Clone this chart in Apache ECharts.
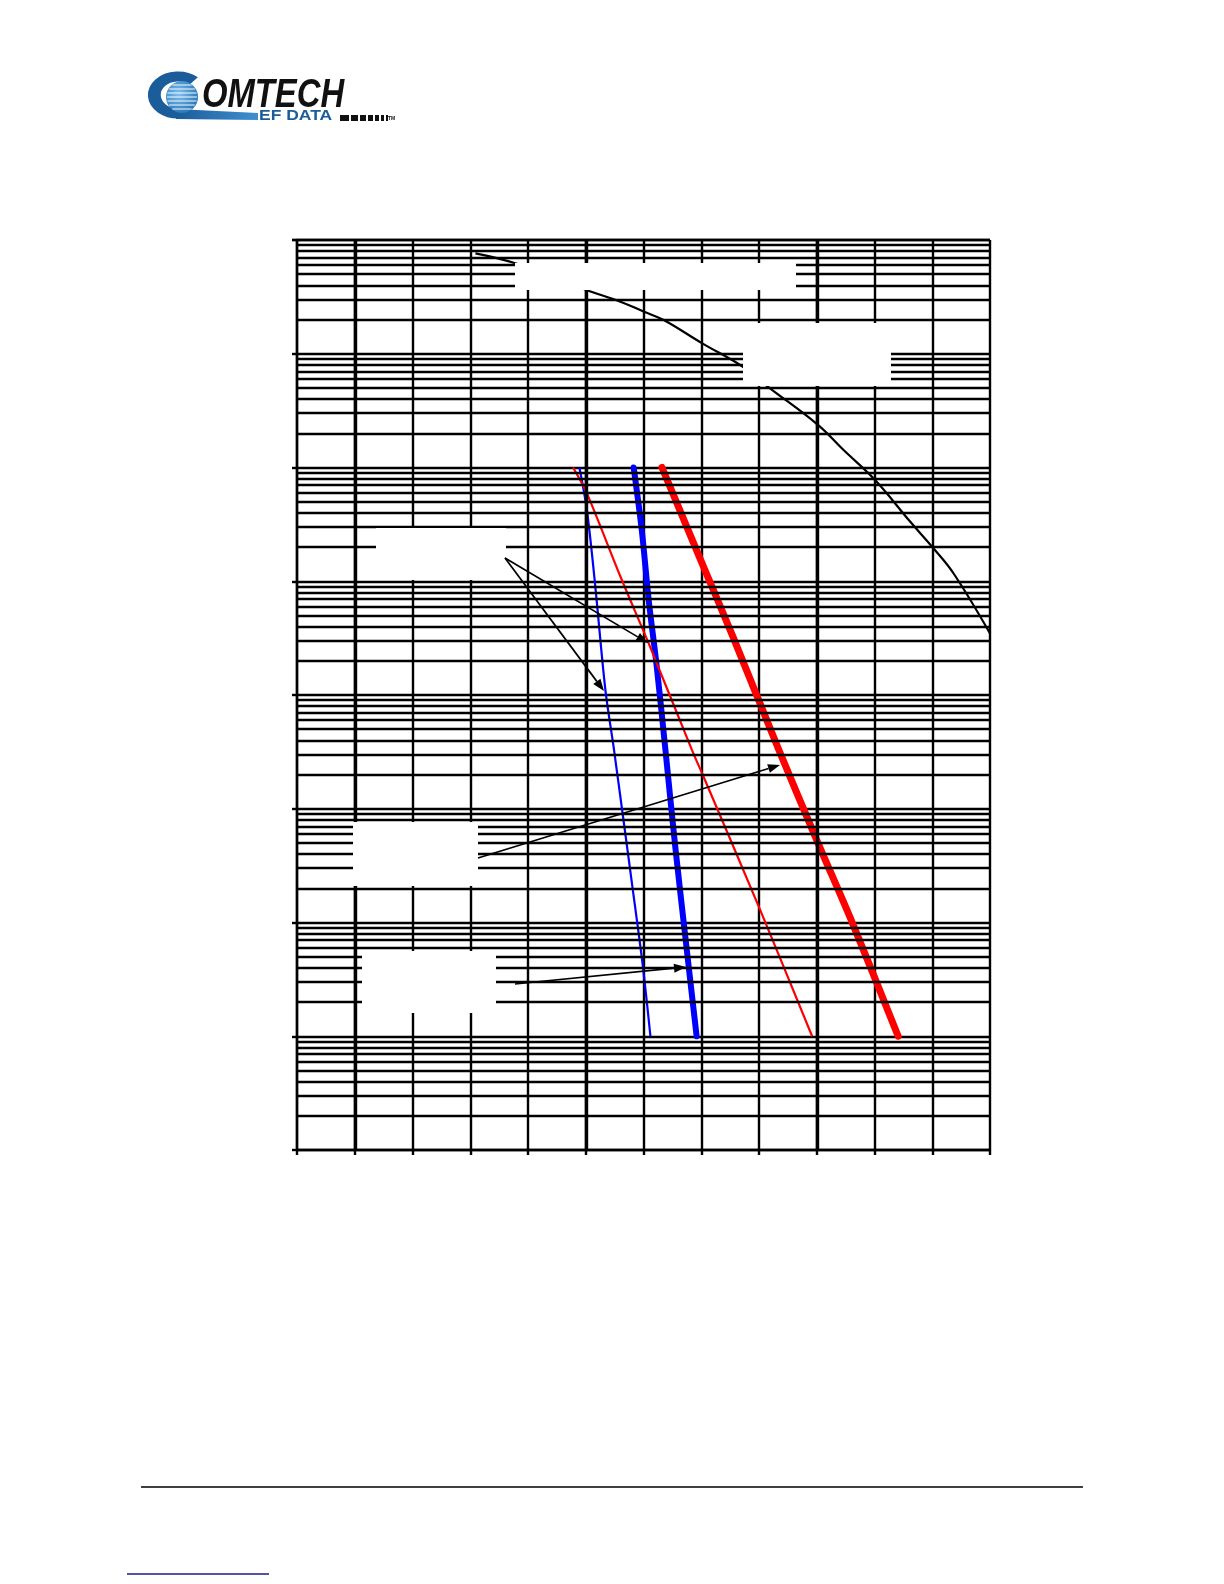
<!DOCTYPE html>
<html>
<head>
<meta charset="utf-8">
<title>BER vs Eb/No</title>
<script src="https://cdn.jsdelivr.net/npm/echarts@6/dist/echarts.min.js"></script>
<style>
    body { margin: 0; background: #fff; }
    #main { width: 1224px; height: 1584px; }
</style>
</head>
<body>
<div id="main"></div>
<script>
    // axes: Eb/No in dB along x, BER on a log scale along y
    var ebnoMin = 0, ebnoMax = 12;
    var berMin = 1e-9, berMax = 1e-1;
    var berDecades = [1e-9, 1e-8, 1e-7, 1e-6, 1e-5, 1e-4, 1e-3, 1e-2];
    var minorSteps = [2, 3, 4, 5, 6, 7, 8, 9];
    var heavyEbno = [1, 5, 9];

    // uncoded reference curve (black)
    var uncodedEbno = [3.09, 3.78, 5.01, 5.60, 6.01, 6.35, 7.01, 7.72, 8.14, 9.02, 9.46, 10.01, 10.62, 11.02, 11.37, 12.0];
    var uncodedBer = [7.64e-2, 6.24e-2, 3.63e-2, 2.87e-2, 2.34e-2, 1.98e-2, 1.24e-2, 7.69e-3, 5.20e-3, 2.37e-3, 1.43e-3, 7.76e-4, 3.33e-4, 1.95e-4, 1.17e-4, 3.48e-5];

    // thin blue
    var blueThinEbno = [4.89, 5.02, 5.16, 5.34, 5.49, 5.63, 5.80, 5.99, 6.12];
    var blueThinBer = [1e-3, 4.23e-4, 9.6e-5, 1.11e-5, 3.28e-6, 9.75e-7, 2.21e-7, 4.08e-8, 1e-8];

    // thick blue
    var blueThickEbno = [5.83, 5.97, 6.09, 6.23, 6.38, 6.55, 6.75, 6.92];
    var blueThickBer = [1e-3, 2.82e-4, 6.84e-5, 1.77e-5, 3.28e-6, 4.63e-7, 5.73e-8, 1e-8];

    // thin red
    var redThinEbno = [4.78, 5.02, 5.60, 6.09, 6.84, 7.04, 8.02, 8.92];
    var redThinBer = [1e-3, 5.93e-4, 1.10e-4, 2.84e-5, 3.28e-6, 1.91e-6, 1.29e-7, 1e-8];

    // thick red
    var redThickEbno = [6.32, 7.04, 7.55, 8.33, 9.00, 9.62, 10.41];
    var redThickBer = [1e-3, 1.34e-4, 3.25e-5, 3.42e-6, 5.31e-7, 9.84e-8, 1e-8];

    function pairs(xs, ys) {
        return xs.map(function (x, i) { return [x, ys[i]]; });
    }

    var minorBer = [];
    berDecades.forEach(function (d) {
        minorSteps.forEach(function (k) { minorBer.push(k * d); });
    });

    // label boxes (their text is blank in the source) and arrows
    var boxes = [
        [515, 263, 281, 27],
        [743, 323, 148, 63],
        [376, 528, 130, 52],
        [353, 822, 125, 64],
        [362, 951, 134, 62]
    ];
    var arrows = [
        [505, 558, 648, 643],
        [505, 558, 604, 691],
        [478, 858, 780, 765],
        [515, 984, 686, 967]
    ];

    function arrow(a) {
        var x1 = a[0], y1 = a[1], x2 = a[2], y2 = a[3];
        var ang = Math.atan2(y2 - y1, x2 - x1);
        var len = 12, half = 4.5;
        var bx = x2 - len * Math.cos(ang), by = y2 - len * Math.sin(ang);
        var px = -Math.sin(ang) * half, py = Math.cos(ang) * half;
        return [
            { type: 'line', z: 20, silent: true,
              shape: { x1: x1, y1: y1, x2: bx, y2: by },
              style: { stroke: '#000', lineWidth: 1.7 } },
            { type: 'polygon', z: 20, silent: true,
              shape: { points: [[x2, y2], [bx + px, by + py], [bx - px, by - py]] },
              style: { fill: '#000' } }
        ];
    }

    var graphics = [];
    boxes.forEach(function (b) {
        graphics.push({ type: 'rect', z: 15, silent: true,
            shape: { x: b[0], y: b[1], width: b[2], height: b[3] },
            style: { fill: '#fff' } });
    });
    arrows.forEach(function (a) { graphics = graphics.concat(arrow(a)); });

    // logo
    graphics.push({ type: 'arc', z: 5, silent: true, x: 178, y: 95, scaleX: 1.28,
        shape: { cx: 0, cy: 0, r: 18.5, startAngle: -0.85, endAngle: Math.PI / 2, clockwise: false },
        style: { stroke: '#1b5c9a', lineWidth: 10, fill: null } });
    graphics.push({ type: 'polygon', z: 5, silent: true,
        shape: { points: [[176, 109], [258, 113], [258, 120], [176, 119]] },
        style: { fill: new echarts.graphic.LinearGradient(0, 0, 1, 0, [
            { offset: 0, color: '#1b5c9a' }, { offset: 1, color: '#3f8fcf' }]) } });
    graphics.push({ type: 'circle', z: 6, silent: true,
        shape: { cx: 182, cy: 97, r: 16 },
        style: { fill: new echarts.graphic.RadialGradient(0.4, 0.4, 0.7, [
            { offset: 0, color: '#7fc0ee' }, { offset: 1, color: '#1f6fb2' }]) } });
    [-12, -8, -4, 0, 4, 8, 12].forEach(function (dy) {
        var hw = Math.sqrt(16 * 16 - dy * dy) - 1;
        graphics.push({ type: 'line', z: 7, silent: true,
            shape: { x1: 182 - hw, y1: 97 + dy, x2: 182 + hw, y2: 97 + dy },
            style: { stroke: '#ffffff', lineWidth: 1.2, opacity: 0.8 } });
    });
    graphics.push({ type: 'text', z: 6, silent: true, x: 202, y: 76, scaleX: 0.82,
        style: { text: 'OMTECH', x: 0, y: 0, fill: '#111',
                 font: 'italic bold 40px "Liberation Sans", Arial, sans-serif' } });
    graphics.push({ type: 'text', z: 6, silent: true, x: 259, y: 109, scaleX: 1.25,
        style: { text: 'EF DATA', x: 0, y: 0, fill: '#1b5c9a',
                 font: 'bold 14px "Liberation Sans", Arial, sans-serif' } });
    var barX = 340;
    [9, 7, 6, 5, 4, 3, 2].forEach(function (w) {
        graphics.push({ type: 'rect', z: 6, silent: true,
            shape: { x: barX, y: 115, width: w, height: 6 }, style: { fill: '#111' } });
        barX += w + 2;
    });
    graphics.push({ type: 'text', z: 6, silent: true, x: 388, y: 116,
        style: { text: 'TM', x: 0, y: 0, fill: '#111', font: 'bold 5px sans-serif' } });

    // footer rule and link underline
    graphics.push({ type: 'line', z: 5, silent: true,
        shape: { x1: 141, y1: 1487, x2: 1083, y2: 1487 },
        style: { stroke: '#000', lineWidth: 1.5 } });
    graphics.push({ type: 'line', z: 5, silent: true,
        shape: { x1: 127, y1: 1574, x2: 269, y2: 1574 },
        style: { stroke: '#1a1a8a', lineWidth: 1.5 } });

    var black = '#000';
    var gridW = 2.4;
    var chart = echarts.init(document.getElementById('main'));
    chart.setOption({
        animation: false,
        backgroundColor: '#fff',
        grid: { left: 297, top: 240, width: 693, height: 910 },
        xAxis: {
            type: 'value', min: ebnoMin, max: ebnoMax, interval: 1,
            axisLine: { onZero: false, lineStyle: { color: black, width: gridW } },
            axisTick: { show: true, length: 5, lineStyle: { color: black, width: gridW } },
            axisLabel: { show: false },
            splitLine: { show: true, lineStyle: { color: black, width: gridW } }
        },
        yAxis: {
            type: 'log', logBase: 10, min: berMin, max: berMax, splitNumber: 8,
            axisLine: { onZero: false, lineStyle: { color: black, width: gridW } },
            axisTick: { show: true, length: 5, lineStyle: { color: black, width: gridW } },
            axisLabel: { show: false },
            splitLine: { show: true, lineStyle: { color: black, width: gridW } }
        },
        graphic: graphics,
        series: [
            {
                name: 'grid', type: 'line', data: [], z: 1, silent: true,
                markLine: {
                    silent: true, symbol: ['none', 'none'], animation: false,
                    precision: 15,
                    label: { show: false },
                    lineStyle: { color: black, width: gridW, type: 'solid' },
                    emphasis: { disabled: true },
                    data: minorBer.map(function (v) { return { yAxis: v }; })
                        .concat(heavyEbno.map(function (v) {
                            return { xAxis: v, lineStyle: { width: 3.4 } };
                        }))
                }
            },
            {
                name: 'Uncoded', type: 'line', z: 3, showSymbol: false, smooth: 0.4,
                data: pairs(uncodedEbno, uncodedBer),
                lineStyle: { color: '#000', width: 2.2 }
            },
            {
                name: 'Blue thick', type: 'line', z: 3, showSymbol: false, smooth: 0.3,
                data: pairs(blueThickEbno, blueThickBer),
                lineStyle: { color: '#0000ff', width: 6, cap: 'round', join: 'round' }
            },
            {
                name: 'Red thick', type: 'line', z: 3, showSymbol: false, smooth: 0.3,
                data: pairs(redThickEbno, redThickBer),
                lineStyle: { color: '#ff0000', width: 7, cap: 'round', join: 'round' }
            },
            {
                name: 'Blue thin', type: 'line', z: 4, showSymbol: false, smooth: 0.3,
                data: pairs(blueThinEbno, blueThinBer),
                lineStyle: { color: '#0000ff', width: 2.2 }
            },
            {
                name: 'Red thin', type: 'line', z: 4, showSymbol: false, smooth: 0.3,
                data: pairs(redThinEbno, redThinBer),
                lineStyle: { color: '#ff0000', width: 2.2 }
            }
        ]
    });
</script>
</body>
</html>
